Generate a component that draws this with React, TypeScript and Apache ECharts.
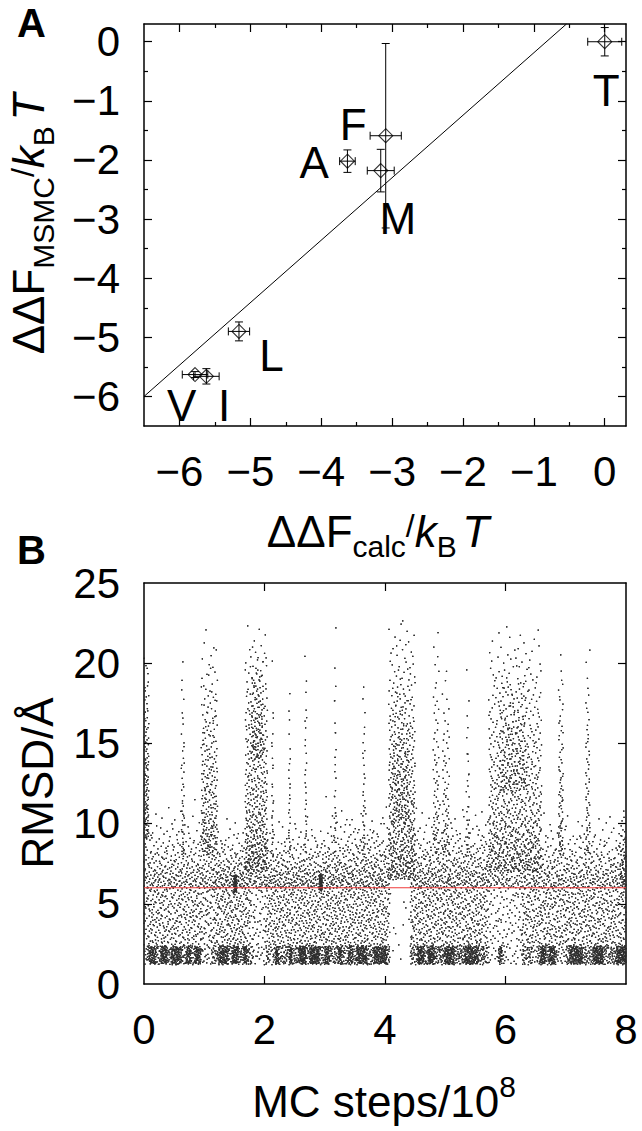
import React, { useEffect, useRef } from 'react';
import * as echarts from 'echarts';

// ---------- Panel A data ----------
const mutants = ['T', 'F', 'A', 'M', 'L', 'V', 'I'];
const calcDF = [0.0, -3.09, -3.63, -3.16, -5.16, -5.78, -5.62];
const msmcDF = [0.0, -1.59, -2.02, -2.18, -4.9, -5.63, -5.66];
const calcErr = [0.24, 0.22, 0.11, 0.19, 0.15, 0.18, 0.18];
const msmcErr = [0.24, 1.56, 0.19, 0.36, 0.16, 0.05, 0.13];
const labelX = [0.02, -3.55, -4.1, -2.92, -4.7, -5.97, -5.37];
const labelY = [-0.82, -1.4, -2.05, -2.99, -5.3, -6.16, -6.16];
const fitX = [-6.5, -0.54];
const fitY = [-6.0, 0.3];
const aMajorTicks = [-6, -5, -4, -3, -2, -1, 0];
const aMinorTicks = [-5.5, -4.5, -3.5, -2.5, -1.5, -0.5];

// ---------- Panel B data ----------
const bXLabels = [0, 2, 4, 6, 8];
const bXTicks = [2, 4, 6];
const bYLabels = [0, 5, 10, 15, 20, 25];
const bYTicks = [5, 10, 15, 20];
const cutoffRMSD = 6.0;
// Individual MC samples are not legible; the cloud is rendered from a density
// table: [x0, x1 (10^8 steps), rmsd0, rmsd1 (Å), sample count]
const baseBand = [
  [0.05, 0.95, 1.2, 2.4, 120], [1.12, 1.82, 1.2, 2.4, 90], [2.02, 2.08, 1.2, 2.4, 10],
  [2.15, 4.08, 1.2, 2.4, 280], [4.42, 5.72, 1.2, 2.4, 210], [5.9, 5.98, 1.2, 2.4, 12],
  [6.27, 6.45, 1.2, 2.4, 25], [6.53, 6.85, 1.2, 2.4, 50], [7.0, 8.0, 1.2, 2.4, 150],
];
// dense streaks inside the 1.2–2.4 Å band: [x0, x1, count]
const baseStreaks = [
  [0.08, 0.2, 55], [0.28, 0.39, 50], [0.45, 0.62, 70], [0.7, 0.78, 35], [0.84, 0.95, 45],
  [1.23, 1.4, 70], [1.46, 1.57, 50], [1.65, 1.71, 25], [2.18, 2.24, 25], [2.41, 2.46, 25],
  [2.58, 2.69, 60], [2.75, 2.91, 80], [3.0, 3.08, 35], [3.22, 3.28, 25], [3.39, 3.47, 35],
  [3.53, 3.7, 70], [3.81, 4.03, 90], [4.54, 4.65, 50], [4.71, 4.82, 50], [4.99, 5.15, 70],
  [5.32, 5.55, 100], [5.88, 5.94, 25], [6.58, 6.67, 40], [6.72, 6.83, 45], [7.06, 7.28, 90],
  [7.45, 7.62, 75], [7.84, 8.0, 80],
];
const lowerBand = [
  [0.0, 0.95, 1.2, 6, 380], [0.95, 1.15, 1.2, 6, 70], [1.15, 1.77, 1.2, 6, 280],
  [1.77, 2.02, 1.2, 6, 60], [2.02, 4.08, 1.2, 6, 900], [4.08, 4.42, 1.2, 6, 10],
  [4.42, 5.71, 1.2, 6, 560], [5.71, 6.27, 1.2, 6, 110], [6.27, 8.0, 1.2, 6, 720],
  [1.49, 1.54, 5.7, 6.8, 45], [2.91, 2.96, 5.8, 6.8, 45],
];
const midBand = [
  [0.0, 0.95, 6, 12, 260], [0.95, 1.15, 6, 12, 55], [1.15, 1.77, 6, 11, 190],
  [1.77, 2.02, 6, 11, 65], [2.02, 3.0, 6, 11, 280], [3.0, 4.08, 6, 12, 350],
  [4.08, 4.42, 6.5, 11, 40], [4.42, 5.71, 6, 12, 400], [5.71, 6.27, 6, 12, 140],
  [6.27, 8.0, 6, 11.5, 440],
];
const upperStripes = [
  [0.0, 0.08, 9, 21.5, 110], [0.62, 0.67, 8, 21, 40], [0.95, 1.22, 8, 22.5, 230],
  [1.68, 2.05, 7, 23, 380], [1.78, 1.98, 14, 21, 80], [2.12, 2.15, 8, 21, 25],
  [2.4, 2.43, 8, 20, 25], [2.67, 2.7, 8, 22, 28], [3.16, 3.19, 8, 22.5, 30],
  [3.63, 3.67, 8, 21, 30], [4.06, 4.5, 6.5, 23.5, 460], [4.12, 4.4, 10, 19, 80],
  [4.8, 4.9, 8, 23, 60], [4.95, 5.07, 8, 21, 60], [5.35, 5.4, 8, 20, 28],
  [5.72, 6.6, 7, 23, 650], [5.9, 6.35, 12, 20, 130], [6.88, 6.96, 8, 22, 70],
  [7.33, 7.4, 8, 22, 55], [7.9, 8.0, 6, 11, 45],
];

const FONT = '"Liberation Sans", Arial, Helvetica, sans-serif';

function halton(i: number, b: number) {
  let f = 1, r = 0;
  while (i > 0) { f /= b; r += f * (i % b); i = Math.floor(i / b); }
  return r;
}

// fade: 0 = uniform in rmsd, 1 = linear fade upward, 2 = quadratic fade upward
function buildCloud() {
  const pts: number[][] = [];
  let idx = 1;
  const add = (regs: number[][], fade: number) => {
    regs.forEach(([x0, x1, y0, y1, n]) => {
      for (let j = 0; j < n; j++, idx++) {
        const u = halton(idx, 2), v = halton(idx, 3);
        const t = fade === 0 ? v : fade === 1 ? 1 - Math.sqrt(1 - v) : 1 - Math.cbrt(1 - v);
        pts.push([x0 + (x1 - x0) * u, y0 + (y1 - y0) * t]);
      }
    });
  };
  add(baseBand, 0);
  add(baseStreaks.map(([a, b, n]) => [a, b, 1.25, 2.35, n]), 0);
  add(lowerBand, 0);
  add(midBand, 2);
  add(upperStripes, 1);
  return pts;
}

const fmt = (v: number) => (v < 0 ? '\u2212' + Math.abs(v) : String(v));

type Seg = { t: string; s: number; it?: boolean; dy?: number };

function titleGroup(segs: Seg[], x: number, y: number, rotation: number) {
  const ctx = document.createElement('canvas').getContext('2d') as CanvasRenderingContext2D;
  const widths = segs.map((g) => {
    ctx.font = `${g.it ? 'italic ' : ''}${g.s}px "Liberation Sans"`;
    return ctx.measureText(g.t).width;
  });
  const total = widths.reduce((a, b) => a + b, 0);
  let cx = -total / 2;
  const children = segs.map((g, i) => {
    const el = {
      type: 'text',
      style: {
        text: g.t, x: cx, y: (g.dy || 0) - 0.35 * g.s,
        fontSize: g.s, fontFamily: FONT, fontStyle: g.it ? 'italic' : 'normal',
        fill: '#000', align: 'left', verticalAlign: 'middle',
      },
    };
    cx += widths[i];
    return el;
  });
  return { type: 'group', x, y, rotation, children };
}

export default function App() {
  const ref = useRef<HTMLDivElement>(null);
  useEffect(() => {
    document.body.style.margin = '0';
    const chart = echarts.init(ref.current as HTMLDivElement, undefined, { renderer: 'svg' });
    const line = { color: '#000', width: 1.5 };
    const tickStyle = { color: '#000', width: 1.2 };
    const labelStyle = { fontSize: 42, fontFamily: FONT, color: '#000' };

    const mkAxis = (grid: number, pos: string, min: number, max: number, ticks: number[], len: number, labels: number[] | null, showLine: boolean) => ({
      type: 'value', gridIndex: grid, position: pos, min, max,
      axisLine: { show: showLine, onZero: false, lineStyle: line },
      axisTick: { show: true, inside: true, length: len, customValues: ticks, lineStyle: tickStyle },
      axisLabel: labels
        ? { show: true, customValues: labels, formatter: fmt, margin: 24, ...labelStyle }
        : { show: false },
      splitLine: { show: false },
    });

    const cloud = buildCloud();

    const option = {
      animation: false,
      backgroundColor: '#fff',
      grid: [
        { left: 144, top: 24, width: 482, height: 402 },
        { left: 144, top: 583, width: 482, height: 401 },
      ],
      xAxis: [
        mkAxis(0, 'bottom', -6.5, 0.3, aMajorTicks, 8, aMajorTicks, true),
        mkAxis(0, 'bottom', -6.5, 0.3, aMinorTicks, 4, null, false),
        mkAxis(0, 'top', -6.5, 0.3, aMajorTicks, 8, null, true),
        mkAxis(0, 'top', -6.5, 0.3, aMinorTicks, 4, null, false),
        mkAxis(1, 'bottom', 0, 8, bXTicks, 8, bXLabels, true),
        mkAxis(1, 'top', 0, 8, bXTicks, 8, null, true),
      ],
      yAxis: [
        mkAxis(0, 'left', -6.5, 0.3, aMajorTicks, 8, aMajorTicks, true),
        mkAxis(0, 'left', -6.5, 0.3, aMinorTicks, 4, null, false),
        mkAxis(0, 'right', -6.5, 0.3, aMajorTicks, 8, null, true),
        mkAxis(0, 'right', -6.5, 0.3, aMinorTicks, 4, null, false),
        mkAxis(1, 'left', 0, 25, bYTicks, 8, bYLabels, true),
        mkAxis(1, 'right', 0, 25, bYTicks, 8, null, true),
      ],
      series: [
        {
          type: 'line', xAxisIndex: 0, yAxisIndex: 0, showSymbol: false, symbol: 'none',
          data: fitX.map((x, i) => [x, fitY[i]]),
          lineStyle: { color: '#000', width: 1 }, silent: true,
        },
        {
          type: 'custom', xAxisIndex: 0, yAxisIndex: 0, silent: true,
          data: calcDF.map((x, i) => [x, msmcDF[i], calcErr[i], msmcErr[i]]),
          renderItem: (params: any, api: any) => {
            const x = api.value(0), y = api.value(1), ex = api.value(2), ey = api.value(3);
            const c = api.coord([x, y]);
            const l = api.coord([x - ex, y]);
            const r = api.coord([x + ex, y]);
            const t = api.coord([x, y + ey]);
            const b = api.coord([x, y - ey]);
            const cap = 4;
            const st = { stroke: '#000', lineWidth: 1 };
            const ln = (x1: number, y1: number, x2: number, y2: number) => ({ type: 'line', shape: { x1, y1, x2, y2 }, style: st });
            return {
              type: 'group',
              children: [
                ln(l[0], c[1], r[0], c[1]),
                ln(l[0], c[1] - cap, l[0], c[1] + cap),
                ln(r[0], c[1] - cap, r[0], c[1] + cap),
                ln(c[0], t[1], c[0], b[1]),
                ln(c[0] - cap, t[1], c[0] + cap, t[1]),
                ln(c[0] - cap, b[1], c[0] + cap, b[1]),
              ],
            };
          },
        },
        {
          type: 'scatter', xAxisIndex: 0, yAxisIndex: 0, symbol: 'diamond', symbolSize: 14,
          data: calcDF.map((x, i) => [x, msmcDF[i]]),
          itemStyle: { color: 'rgba(0,0,0,0)', borderColor: '#000', borderWidth: 1.1 }, silent: true,
        },
        {
          type: 'scatter', xAxisIndex: 0, yAxisIndex: 0, symbolSize: 1, silent: true,
          itemStyle: { color: 'rgba(0,0,0,0)' },
          data: labelX.map((x, i) => ({ value: [x, labelY[i]], name: mutants[i] })),
          label: {
            show: true, position: 'inside', formatter: (p: any) => p.name,
            fontSize: 44, fontFamily: FONT, color: '#000', opacity: 1, textBorderWidth: 0,
          },
        },
        {
          type: 'scatter', xAxisIndex: 4, yAxisIndex: 4, symbol: 'rect', symbolSize: 1.25,
          large: true, largeThreshold: 500, silent: true,
          data: cloud, itemStyle: { color: '#2a2a2a' },
        },
        {
          type: 'line', xAxisIndex: 4, yAxisIndex: 4, symbol: 'none', silent: true,
          data: [[0, cutoffRMSD], [8, cutoffRMSD]],
          lineStyle: { color: '#f03a3a', width: 1 },
        },
      ],
      graphic: [
        { type: 'text', style: { text: 'A', x: 17, y: 23, fontSize: 40, fontWeight: 'bold', fontFamily: FONT, fill: '#000', verticalAlign: 'middle' } },
        { type: 'text', style: { text: 'B', x: 17, y: 550, fontSize: 40, fontWeight: 'bold', fontFamily: FONT, fill: '#000', verticalAlign: 'middle' } },
        titleGroup([
          { t: 'ΔΔF', s: 44 }, { t: 'MSMC', s: 30, dy: 10 }, { t: '/', s: 32, dy: -10 },
          { t: 'k', s: 44, it: true }, { t: 'B', s: 30, dy: 10 }, { t: ' ', s: 20 }, { t: 'T', s: 44, it: true },
        ], 44, 224, Math.PI / 2),
        titleGroup([
          { t: 'ΔΔF', s: 44 }, { t: 'calc', s: 30, dy: 10 }, { t: '/', s: 32, dy: -10 },
          { t: 'k', s: 44, it: true }, { t: 'B', s: 30, dy: 10 }, { t: ' ', s: 20 }, { t: 'T', s: 44, it: true },
        ], 378, 547, 0),
        titleGroup([{ t: 'RMSD/Å', s: 44 }], 53, 783, Math.PI / 2),
        titleGroup([{ t: 'MC steps/10', s: 44 }, { t: '8', s: 30, dy: -20 }], 384, 1117, 0),
      ],
    };
    chart.setOption(option as any);
    return () => chart.dispose();
  }, []);
  return <div ref={ref} style={{ width: 642, height: 1131 }} />;
}
